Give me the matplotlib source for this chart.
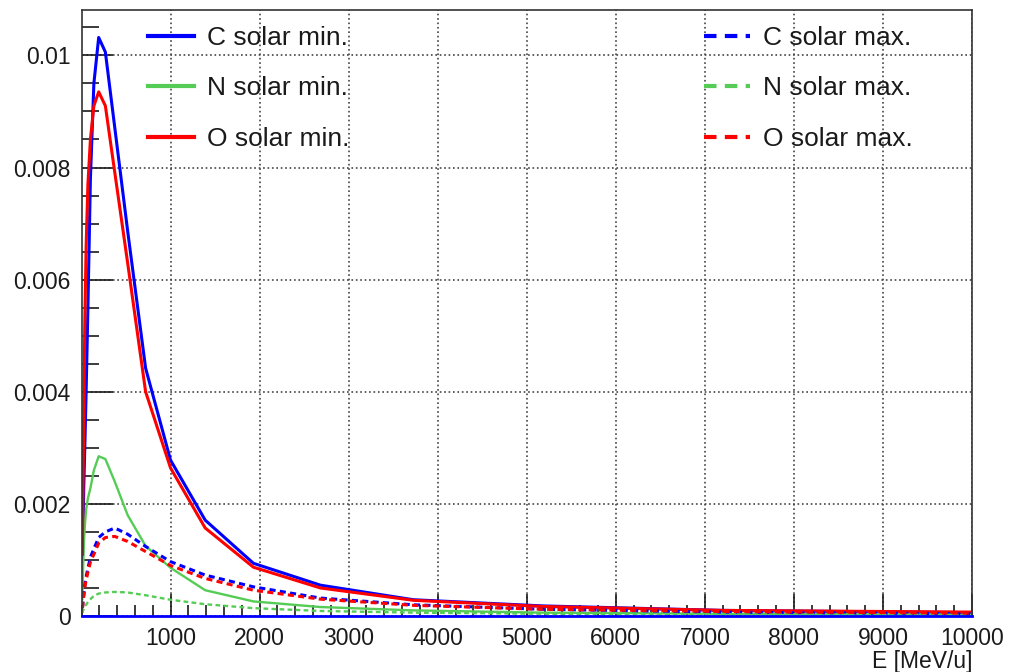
import numpy as np
import matplotlib
matplotlib.use('Agg')
import matplotlib.pyplot as plt
from matplotlib.ticker import MultipleLocator

plt.rcParams['font.family'] = ['Liberation Sans', 'DejaVu Sans']

# energy grid [MeV/u]
energy = [10, 14, 19, 27, 37, 52, 72, 100, 139, 193, 268, 373, 518, 720,
          1000, 1389, 1931, 2683, 3728, 5179, 7197, 10000]

# solar minimum
c_min = [0.0009, 0.0013, 0.0018, 0.0024, 0.0030, 0.0040, 0.0055, 0.0078, 0.0095, 0.01032, 0.01006,
         0.00872, 0.00687, 0.00442, 0.00278, 0.00171, 0.00094, 0.00055, 0.00029, 0.00018, 0.00010, 0.00006]
n_min = [0.0003, 0.0006, 0.0009, 0.0013, 0.0016, 0.0019, 0.0021, 0.00228, 0.0026, 0.00285, 0.0028,
         0.0024, 0.0018, 0.00125, 0.00086, 0.00046, 0.00026, 0.00016, 0.00010, 0.00006, 0.00004, 0.00002]
o_min = [0.0011, 0.0018, 0.0026, 0.0038, 0.0052, 0.0066, 0.0077, 0.0085, 0.0091, 0.00935, 0.0091,
         0.00792, 0.0063, 0.0040, 0.00264, 0.00157, 0.00087, 0.00050, 0.00028, 0.00017, 0.00010, 0.00007]

# solar maximum
c_max = [0.00015, 0.0002, 0.0003, 0.0004, 0.00055, 0.0007, 0.00085, 0.00105, 0.0012, 0.0014, 0.0015,
         0.00157, 0.00146, 0.00124, 0.00097, 0.00073, 0.00052, 0.00032, 0.00020, 0.00012, 0.00007, 0.00004]
n_max = [0.00005, 0.00008, 0.0001, 0.00014, 0.00018, 0.0002, 0.00025, 0.0003, 0.00036, 0.0004, 0.00042,
         0.00043, 0.00042, 0.00037, 0.00029, 0.00021, 0.00014, 0.00009, 0.00006, 0.00004, 0.00003, 0.00002]
o_max = [0.00014, 0.00018, 0.00027, 0.00037, 0.0005, 0.00064, 0.00078, 0.00096, 0.0011, 0.0013, 0.0014,
         0.00142, 0.00133, 0.00115, 0.00090, 0.00067, 0.00046, 0.00030, 0.00019, 0.00012, 0.00008, 0.00005]

blue, green, red = '#0000ff', '#55cc55', '#ff0000'

fig = plt.figure(figsize=(10.24, 6.72), dpi=100)
ax = fig.add_axes([81.5/1024, 1-616/672, (972-81.5)/1024, (616-10)/672])

lw = 2.2
dash = (2.0, 1.4)
h_cmin, = ax.plot(energy, c_min, color=blue, lw=lw, label='C solar min.')
h_nmin, = ax.plot(energy, n_min, color=green, lw=1.7, label='N solar min.')
h_omin, = ax.plot(energy, o_min, color=red, lw=lw, label='O solar min.')
h_cmax, = ax.plot(energy, c_max, color=blue, lw=lw, ls=(0, dash), label='C solar max.')
h_nmax, = ax.plot(energy, n_max, color=green, lw=1.7, ls=(0, dash), label='N solar max.')
h_omax, = ax.plot(energy, o_max, color=red, lw=lw, ls=(0, dash), label='O solar max.')

ax.set_xlim(0, 10000)
ax.set_ylim(0, 0.01081)

ax.xaxis.set_minor_locator(MultipleLocator(200))
ax.yaxis.set_minor_locator(MultipleLocator(0.0005))

ax.set_xticks(range(1000, 10001, 1000))
ax.set_xticklabels([str(v) for v in range(1000, 10001, 1000)])
yt = [0, 0.002, 0.004, 0.006, 0.008, 0.01]
ax.set_yticks(yt)
ax.set_yticklabels(['0', '0.002', '0.004', '0.006', '0.008', '0.01'])

ax.tick_params(which='both', direction='in', top=False, right=False, labelsize=16.5, colors='#1a1a1a')
ax.tick_params(axis='x', which='major', length=16, width=1.2, pad=8)
ax.tick_params(axis='x', which='minor', length=8, width=1.2)
ax.tick_params(axis='y', which='major', length=22, width=1.2, pad=8)
ax.tick_params(axis='y', which='minor', length=12, width=1.2)

ax.grid(True, which='major', ls=':', color='#444444', lw=1.2)
for s in ['top', 'right', 'left']:
    ax.spines[s].set_color('#333333')
    ax.spines[s].set_linewidth(1.2)
ax.spines['bottom'].set_color(blue)
ax.spines['bottom'].set_linewidth(2.0)

ax.set_xlabel('E [MeV/u]', fontsize=16.5, loc='right', labelpad=0, color='#1a1a1a')

leg_kw = dict(frameon=False, fontsize=19, handlelength=1.75, handletextpad=0.5,
              labelspacing=1.0, borderaxespad=0, borderpad=0, labelcolor='#1a1a1a')
leg1 = ax.legend(handles=[h_cmin, h_nmin, h_omin], loc='upper left',
                 bbox_to_anchor=(148/1024, 1-26/672), bbox_transform=fig.transFigure, **leg_kw)
for l in leg1.get_lines():
    l.set_linewidth(3)
ax.add_artist(leg1)
leg2 = ax.legend(handles=[h_cmax, h_nmax, h_omax], loc='upper left',
                 bbox_to_anchor=(704/1024, 1-26/672), bbox_transform=fig.transFigure, **leg_kw)
for l in leg2.get_lines():
    l.set_linewidth(3)
    l.set_linestyle((0, (3, 2)))

fig.savefig('out.png', dpi=100)
